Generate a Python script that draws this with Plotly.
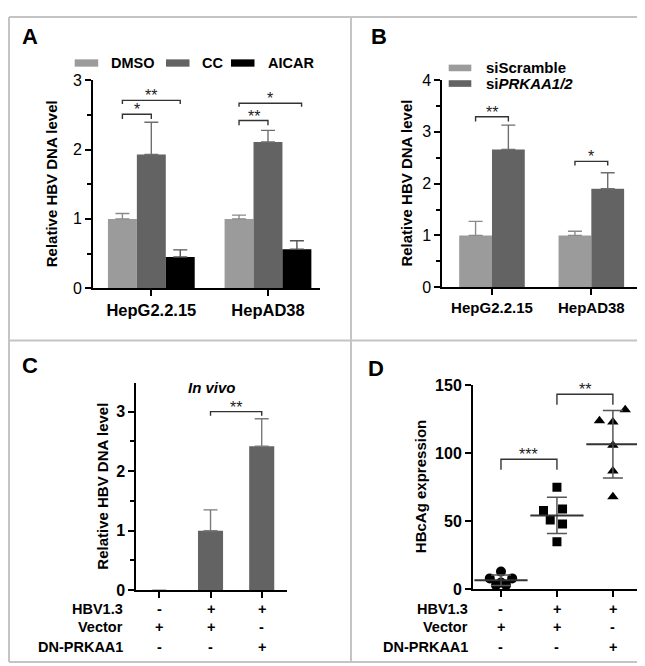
import numpy as np
import plotly.graph_objects as go

# ---------------- data ----------------
a_groups = ["HepG2.2.15", "HepAD38"]
a_dmso = [1.0, 1.0]
a_dmso_err = [0.077, 0.055]
a_cc = [1.93, 2.11]
a_cc_err = [0.465, 0.168]
a_aicar = [0.45, 0.563]
a_aicar_err = [0.103, 0.121]

b_groups = ["HepG2.2.15", "HepAD38"]
b_scr = [1.0, 1.0]
b_scr_err = [0.27, 0.08]
b_si = [2.66, 1.90]
b_si_err = [0.47, 0.31]

c_vals = [0.0, 1.0, 2.42]
c_err = [0.0, 0.35, 0.46]

row_names = ["HBV1.3", "Vector", "DN-PRKAA1"]
row_signs = [["-", "+", "+"], ["+", "+", "-"], ["-", "-", "+"]]

d_ctrl = [13, 8, 8, 5, 3, 3]
d_vec = [75, 58, 59, 51, 48, 35]
d_dn = [132, 124, 123, 106, 87, 68]

# ---------------- layout helpers ----------------
W, H = 645, 666
FONT = "Arial, Liberation Sans, Helvetica, sans-serif"


def px(x):
    return x / W


def py(y):
    return 1 - y / H


C_LIGHT = "#9b9b9b"
C_DARK = "#636363"
C_BLACK = "#000000"

# jitter offsets for panel D (positions only)
j_ctrl = [0, -0.2, 0.2, 0, -0.09, 0.09]
j_vec = [0, -0.24, 0.10, -0.12, 0.10, 0]
j_dn = [0.22, -0.24, 0, 0, 0, 0]

fig = go.Figure()

# ---------------- Panel A ----------------
A_W = 0.248
for name, vals, errs, col, ecol, off in [
    ("DMSO", a_dmso, a_dmso_err, C_LIGHT, "#8a8a8a", -A_W),
    ("CC", a_cc, a_cc_err, C_DARK, "#6e6e6e", 0),
    ("AICAR", a_aicar, a_aicar_err, C_BLACK, "#555555", A_W),
]:
    fig.add_trace(go.Bar(
        x=[i + off for i in range(len(vals))], y=vals, width=A_W, name=name,
        marker=dict(color=col, line=dict(width=0)),
        error_y=dict(type="data", symmetric=False, array=errs,
                     arrayminus=[0] * len(errs), color=ecol, thickness=1.4, width=7),
        xaxis="x", yaxis="y", showlegend=False))

# ---------------- Panel B ----------------
B_W = 0.33
for name, vals, errs, col, ecol, off in [
    ("siScramble", b_scr, b_scr_err, C_LIGHT, "#8a8a8a", -B_W / 2),
    ("siPRKAA1/2", b_si, b_si_err, C_DARK, "#6e6e6e", B_W / 2),
]:
    fig.add_trace(go.Bar(
        x=[i + off for i in range(len(vals))], y=vals, width=B_W, name=name,
        marker=dict(color=col, line=dict(width=0)),
        error_y=dict(type="data", symmetric=False, array=errs,
                     arrayminus=[0] * len(errs), color=ecol, thickness=1.4, width=7),
        xaxis="x2", yaxis="y2", showlegend=False))

# ---------------- Panel C ----------------
fig.add_trace(go.Bar(
    x=list(range(len(c_vals))), y=c_vals, width=0.49,
    marker=dict(color=C_DARK, line=dict(width=0)),
    error_y=dict(type="data", symmetric=False, array=c_err,
                 arrayminus=[0] * len(c_err), color="#7a7a7a", thickness=1.4, width=7),
    xaxis="x3", yaxis="y3", showlegend=False))

# ---------------- Panel D ----------------
for gi, (vals, jit, sym, size) in enumerate([
    (d_ctrl, j_ctrl, "circle", 10),
    (d_vec, j_vec, "square", 9),
    (d_dn, j_dn, "triangle-up", 10),
]):
    fig.add_trace(go.Scatter(
        x=[gi + j for j in jit], y=vals, mode="markers",
        marker=dict(symbol=sym, size=size, color="black", line=dict(width=0)),
        xaxis="x4", yaxis="y4", showlegend=False))
    m = float(np.mean(vals))
    sd = float(np.std(vals, ddof=1))
    fig.add_trace(go.Scatter(
        x=[gi], y=[m], mode="markers",
        marker=dict(symbol="line-ew", size=38, color="black",
                    line=dict(width=2, color="#333333")),
        error_y=dict(type="data", array=[sd], color="#555555", thickness=1.5, width=10),
        xaxis="x4", yaxis="y4", showlegend=False))

# ---------------- axes ----------------
axis_common = dict(showline=True, linecolor="black", linewidth=2, ticks="outside",
                   tickcolor="black", tickwidth=2, ticklen=6, showgrid=False,
                   zeroline=False, mirror=False, fixedrange=True)

tick_reg = dict(family=FONT, size=16, color="black")
tick_bold = dict(family=FONT, size=16, color="black", weight="bold")

layout = dict(
    width=W, height=H, margin=dict(l=0, r=0, t=0, b=0),
    paper_bgcolor="white", plot_bgcolor="rgba(0,0,0,0)",
    font=dict(family=FONT, color="black"),
    showlegend=False,
    xaxis=dict(domain=[px(85), px(312)], range=[-0.5, 1.446], anchor="y",
               tickvals=[0, 1], ticktext=a_groups, tickfont=dict(tick_bold, size=16.5),
               **axis_common),
    yaxis=dict(domain=[py(279.3), py(66)], range=[0, 3], anchor="x",
               tickvals=[0, 1, 2, 3], tickfont=tick_reg,
               minor=dict(dtick=0.5, tick0=0, ticklen=4, tickwidth=2, tickcolor="black", ticks="outside"),
               **axis_common),
    xaxis2=dict(domain=[px(434.3), px(635)], range=[-0.5, 1.52], anchor="y2",
                tickvals=[0, 1], ticktext=b_groups, tickfont=dict(tick_bold, size=15),
                **axis_common),
    yaxis2=dict(domain=[py(278.3), py(65.7)], range=[0, 4], anchor="x2",
                tickvals=[0, 1, 2, 3, 4], tickfont=tick_reg,
                minor=dict(dtick=0.5, tick0=0, ticklen=4, tickwidth=2, tickcolor="black", ticks="outside"),
                **axis_common),
    xaxis3=dict(domain=[px(128.3), px(279.3)], range=[-0.45, 2.5], anchor="y3",
                tickvals=[0, 1, 2], showticklabels=False, **axis_common),
    yaxis3=dict(domain=[py(589.3), py(376.7)], range=[0, 3.48], anchor="x3",
                tickvals=[0, 1, 2, 3], tickfont=tick_bold,
                minor=dict(dtick=0.5, tick0=0, ticklen=4, tickwidth=2, tickcolor="black", ticks="outside"),
                **axis_common),
    xaxis4=dict(domain=[px(465), px(634)], range=[-0.5, 2.52], anchor="y4",
                tickvals=[0, 1, 2], showticklabels=False, **axis_common),
    yaxis4=dict(domain=[py(588.3), py(379)], range=[0, 150], anchor="x4",
                tickvals=[0, 50, 100, 150], tickfont=tick_bold,
                **axis_common),
)
fig.update_layout(**layout)

shapes = []
annos = []

# borders
bcol = "#c4c4c4"
for (x0, y0, x1, y1) in [(1, 1, 644, 1), (1, 1, 1, 663), (644, 1, 644, 663), (1, 663, 644, 663),
                         (343, 1, 343, 663), (1, 333, 644, 333)]:
    shapes.append(dict(type="line", xref="paper", yref="paper", x0=px(x0), y0=py(y0),
                       x1=px(x1), y1=py(y1), line=dict(color=bcol, width=2)))


def bracket(xr, yr, x1, x2, y, drop, stars, star_size=16):
    shapes.append(dict(type="path", xref=xr, yref=yr,
                       path=f"M {x1},{y - drop} L {x1},{y} L {x2},{y} L {x2},{y - drop}",
                       line=dict(color="#333333", width=1.4)))
    annos.append(dict(xref=xr, yref=yr, x=(x1 + x2) / 2, y=y, text=stars, showarrow=False,
                      yanchor="bottom", yshift=-6, font=dict(family=FONT, size=star_size, color="#222222")))


# Panel A brackets
bracket("x", "y", 0 - A_W, 0, 2.51, 0.07, "*")
bracket("x", "y", 0 - A_W, 0 + A_W, 2.71, 0.05, "**")
bracket("x", "y", 1 - A_W, 1, 2.42, 0.07, "**")
bracket("x", "y", 1 - A_W, 1 + A_W + 0.04, 2.67, 0.05, "*")

# Panel B brackets
bracket("x2", "y2", 0 - B_W / 2, 0 + B_W / 2, 3.29, 0.09, "**")
bracket("x2", "y2", 1 - B_W / 2, 1 + B_W / 2, 2.43, 0.08, "*")

# Panel C bracket
bracket("x3", "y3", 1, 2, 3.0, 0.07, "**")

# Panel D brackets
bracket("x4", "y4", 0, 1, 95.6, 7.6, "***")
bracket("x4", "y4", 1, 2, 143.4, 7.7, "**")

# legends (A)
legA = [(66.7, "DMSO", C_LIGHT), (158, "CC", C_DARK), (223, "AICAR", C_BLACK)]
for sx, label, col in legA:
    shapes.append(dict(type="rect", xref="paper", yref="paper", x0=px(sx), x1=px(sx + 23.5),
                       y0=py(52), y1=py(44.5), fillcolor=col, line=dict(width=0)))
    annos.append(dict(xref="paper", yref="paper", x=px(sx + 34.5), y=py(48.3), text=f"<b>{label}</b>",
                      showarrow=False, xanchor="left", yanchor="middle",
                      font=dict(family=FONT, size=14.5, color="black")))

# legends (B)
legB = [(53.3, "siScramble", C_LIGHT), (69.3, "si<i>PRKAA1/2</i>", C_DARK)]
for cy, label, col in legB:
    shapes.append(dict(type="rect", xref="paper", yref="paper", x0=px(440.7), x1=px(463.3),
                       y0=py(cy + 3.4), y1=py(cy - 3.4), fillcolor=col, line=dict(width=0)))
    annos.append(dict(xref="paper", yref="paper", x=px(475.5), y=py(cy), text=f"<b>{label}</b>",
                      showarrow=False, xanchor="left", yanchor="middle",
                      font=dict(family=FONT, size=15, color="black")))

# y titles
for xc, yc, txt in [(43, 172.7, "Relative HBV DNA level"), (399, 172, "Relative HBV DNA level"),
                    (95, 483, "Relative HBV DNA level"), (412, 483.5, "HBcAg expression")]:
    annos.append(dict(xref="paper", yref="paper", x=px(xc), y=py(yc), text=f"<b>{txt}</b>",
                      textangle=-90, showarrow=False, xanchor="center", yanchor="middle",
                      font=dict(family=FONT, size=15, color="black")))

# In vivo
annos.append(dict(xref="x3", yref="paper", x=1.02, y=py(381.7), text="<b><i>In vivo</i></b>",
                  showarrow=False, xanchor="center", yanchor="middle",
                  font=dict(family=FONT, size=15, color="black")))

# panel letters
for xl, yc, letter in [(12, 21, "A"), (361, 21, "B"), (12, 359, "C"), (358, 362, "D")]:
    annos.append(dict(xref="paper", yref="paper", x=px(xl), y=py(yc), text=f"<b>{letter}</b>",
                      showarrow=False, xanchor="left", yanchor="middle",
                      font=dict(family=FONT, size=22, color="black")))

# condition rows below C and D
row_y = [608.3, 627.2, 647.5]
for xr, lab_x in [("x3", 116.7), ("x4", 462)]:
    for ri, (nm, signs) in enumerate(zip(row_names, row_signs)):
        annos.append(dict(xref="paper", yref="paper", x=px(lab_x), y=py(row_y[ri]),
                          text=f"<b>{nm}</b>", showarrow=False, xanchor="right", yanchor="middle",
                          font=dict(family=FONT, size=14.5, color="black")))
        for ci, s in enumerate(signs):
            annos.append(dict(xref=xr, yref="paper", x=ci, y=py(row_y[ri]), text=f"<b>{s}</b>",
                              showarrow=False, xanchor="center", yanchor="middle",
                              font=dict(family=FONT, size=14.5, color="black")))

fig.update_layout(shapes=shapes, annotations=annos)
fig.write_html("out.html")
